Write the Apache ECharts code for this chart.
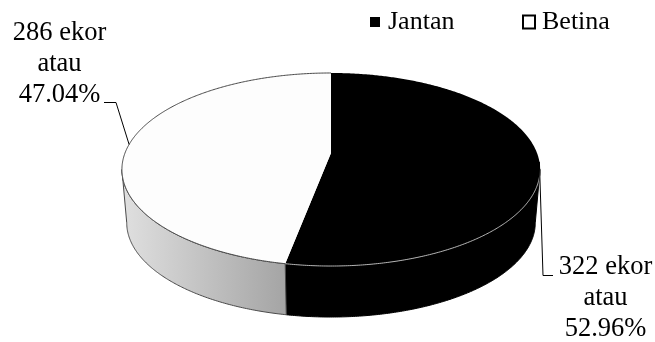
<!DOCTYPE html>
<html>
<head>
<meta charset="utf-8">
<style>html,body{margin:0;padding:0;background:#fff}#chart{width:655px;height:342px}</style>
<script src="https://cdn.jsdelivr.net/npm/echarts@6/dist/echarts.min.js"></script>
</head>
<body>
<div id="chart"></div>
<script>
// Jumlah ternak menurut jenis kelamin
const categories = ['Jantan', 'Betina'];
const headCounts = [322, 286];
const total = headCounts.reduce((a, b) => a + b, 0);

// Disc drawn in perspective: a unit circle goes through a projective map
const FONT = '"Liberation Serif", "Times New Roman", serif';
const disc = { cx: 331, cy: 153, rx: 206, ry: 93.7, k: 0.171 };
const base = { cy: 206.6, scale: 0.977 };
const sideCut = Math.acos(-disc.k) * 180 / Math.PI;

function project(deg, lower) {
  const t = deg * Math.PI / 180;
  const u = Math.sin(t), v = -Math.cos(t), d = 1 - disc.k * v;
  const s = lower ? base.scale : 1;
  return [disc.cx + s * disc.rx * u / d, (lower ? base.cy : disc.cy) + s * disc.ry * v / d];
}
function arc(from, to, lower) {
  const n = Math.max(2, Math.ceil(Math.abs(to - from) / 0.5));
  const pts = [];
  for (let i = 0; i <= n; i++) pts.push(project(from + (to - from) * i / n, lower));
  return pts;
}

// Per-slice settings: angle range comes from the counts
function sliceRange(i) {
  const before = headCounts.slice(0, i).reduce((a, b) => a + b, 0);
  return [before / total * 360, (before + headCounts[i]) / total * 360];
}

const sliceStyle = [
  {
    top: '#000000',
    wall: '#000000',
    wallStroke: '#000000',
    rim: '#b4b4b4'
  },
  {
    top: '#fdfdfd',
    wall: { type: 'linear', x: 0, y: 0, x2: 1, y2: 0, colorStops: [
      { offset: 0, color: '#e0e0e0' }, { offset: 1, color: '#a4a4a4' }
    ] },
    wallStroke: '#4a4a4a',
    rim: '#484848'
  }
];
const leaderBend = [
  [[543, 275.5], [553, 275.5]],
  [[116, 102.5], [104, 102.5]]
];
const labelAt = [[605.5, 298.5], [59.5, 64.5]];

function renderSlice(i) {
  return function (params, api) {
    const [a0, a1] = sliceRange(i);
    const st = sliceStyle[i];
    const w0 = Math.max(a0, sideCut), w1 = Math.min(a1, 360 - sideCut);
    const rimPts = i === 1 ? arc(a0, a1, false) : arc(w0, w1, false);
    const mid = project((a0 + a1) / 2, false);
    const pct = (api.value(0) / total * 100).toFixed(2);
    return {
      type: 'group',
      children: [
        { type: 'polygon', z2: 1,
          shape: { points: arc(w0, w1, false).concat(arc(w0, w1, true).reverse()) },
          style: { fill: st.wall, stroke: st.wallStroke, lineWidth: 1 } },
        { type: 'polygon', z2: 2,
          shape: { points: [[disc.cx, disc.cy]].concat(arc(a0, a1, false)) },
          style: { fill: st.top, stroke: null } },
        { type: 'polyline', z2: 3,
          shape: { points: rimPts },
          style: { fill: null, stroke: st.rim, lineWidth: 1 } },
        { type: 'polyline', z2: 4,
          shape: { points: [mid].concat(leaderBend[i]) },
          style: { fill: null, stroke: '#000', lineWidth: 1 } },
        { type: 'text', z2: 5,
          style: {
            x: labelAt[i][0], y: labelAt[i][1],
            text: api.value(0) + ' ekor\natau\n' + pct + '%',
            align: 'center', verticalAlign: 'middle',
            font: '26.5px ' + FONT, lineHeight: 31, fill: '#000'
          } }
      ]
    };
  };
}

const chart = echarts.init(document.getElementById('chart'), null, { renderer: 'canvas' });
chart.setOption({
  animation: false,
  backgroundColor: '#ffffff',
  legend: [
    {
      left: 370, top: 9, padding: 0, selectedMode: false, itemWidth: 10, itemHeight: 10,
      textStyle: { fontFamily: FONT, fontSize: 26, color: '#000', padding: [0, 0, 0, 3] },
      data: [{ name: categories[0], icon: 'rect', itemStyle: { color: '#000', borderWidth: 0 } }]
    },
    {
      left: 522, top: 9, padding: 0, selectedMode: false, itemWidth: 12, itemHeight: 13,
      textStyle: { fontFamily: FONT, fontSize: 26, color: '#000', padding: [0, 0, 0, 2] },
      data: [{ name: categories[1], icon: 'rect', itemStyle: { color: '#fff', borderColor: '#000', borderWidth: 2 } }]
    }
  ],
  series: categories.map((name, i) => ({
    type: 'custom',
    name,
    coordinateSystem: 'none',
    silent: true,
    itemStyle: { color: i === 0 ? '#000' : '#fff' },
    renderItem: renderSlice(i),
    data: [[headCounts[i]]]
  }))
});
</script>
</body>
</html>
